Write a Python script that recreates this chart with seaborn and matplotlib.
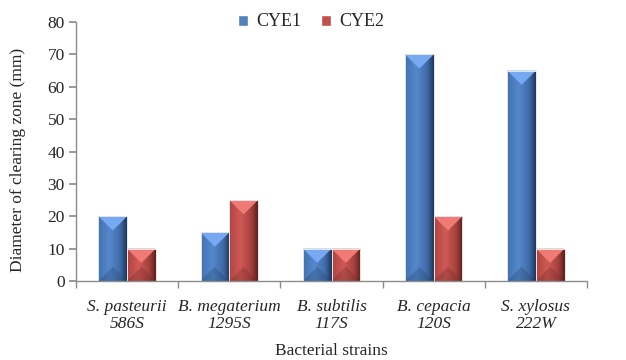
import numpy as np
import pandas as pd
import matplotlib
matplotlib.use("Agg")
import matplotlib.pyplot as plt
from matplotlib.colors import LinearSegmentedColormap, to_rgb
from matplotlib.patches import Polygon, Patch
import seaborn as sns

strains = ["S. pasteurii\n586S", "B. megaterium\n1295S", "B. subtilis\n117S",
           "B. cepacia\n120S", "S. xylosus\n222W"]
series = ["CYE1", "CYE2"]
cye1 = [20, 15, 10, 70, 65]
cye2 = [10, 25, 10, 20, 10]
yticks = [0, 10, 20, 30, 40, 50, 60, 70, 80]

df = pd.DataFrame({
    "strain": strains * 2,
    "series": [series[0]] * len(strains) + [series[1]] * len(strains),
    "value": cye1 + cye2,
})

sns.set_theme(style="white")
plt.rcParams["font.family"] = ["Liberation Serif", "DejaVu Serif"]

colors = {"CYE1": "#4F81BD", "CYE2": "#C0504D"}
grad_stops = {
    "CYE1": ["#4272b0", "#5688cc", "#3f6aa6", "#1d375c"],
    "CYE2": ["#b04441", "#cf5a56", "#a4403d", "#5e201e"],
}
top_col = {"CYE1": "#76a9f2", "CYE2": "#f07a76"}
bot_col = {"CYE1": "#23446e", "CYE2": "#6e2826"}

fig = plt.figure(figsize=(6.26, 3.6), dpi=100)
ax = fig.add_axes([76 / 626, 1 - 281 / 360, 511 / 626, 259 / 360])

sns.barplot(data=df, x="strain", y="value", hue="series", order=strains,
            hue_order=series, palette=colors, width=0.56, ax=ax,
            edgecolor="white", linewidth=0.6, legend=False, saturation=1)

ax.set_xlim(-0.5, len(strains) - 0.5)
ax.set_ylim(0, 80)
ax.set_yticks(yticks)
ax.set_yticklabels([str(t) for t in yticks], fontsize=12.5)

fig.canvas.draw()
p0 = ax.transData.transform((0, 0))
p1 = ax.transData.transform((1, 1))
sx = p1[0] - p0[0]
sy = p1[1] - p0[1]

bars = [p for p in ax.patches if p.get_height() > 0]
n = len(strains)
for i, bar in enumerate(bars):
    s = series[0] if i < n else series[1]
    x, w, h = bar.get_x(), bar.get_width(), bar.get_height()
    cmap = LinearSegmentedColormap.from_list(
        "g", list(zip([0.0, 0.4, 0.78, 1.0], [to_rgb(c) for c in grad_stops[s]])))
    grad = np.linspace(0, 1, 64).reshape(1, -1)
    z = bar.get_zorder()
    im = ax.imshow(grad, extent=(x, x + w, 0, h), aspect="auto", cmap=cmap,
                   zorder=z + 0.1, interpolation="bilinear")
    im.set_clip_path(bar)
    d = min((w / 2) * sx / sy, h / 2)
    ax.add_patch(Polygon([(x, h), (x + w, h), (x + w / 2, h - d)], closed=True,
                         facecolor=top_col[s], edgecolor="none", alpha=1.0,
                         zorder=z + 0.2))
    ax.add_patch(Polygon([(x, 0), (x + w, 0), (x + w / 2, d)], closed=True,
                         facecolor=bot_col[s], edgecolor="none", alpha=0.3,
                         zorder=z + 0.2))
    ax.add_patch(plt.Rectangle((x, 0), w, h, fill=False, edgecolor="#e6e6e6",
                               linewidth=0.7, zorder=z + 0.3))
    ax.set_xlim(-0.5, len(strains) - 0.5)
    ax.set_ylim(0, 80)

ax.set_xticks(np.arange(len(strains)))
ax.set_xticklabels(strains, fontsize=12.5, style="italic", linespacing=1.1)
ax.set_xticks(np.arange(len(strains) + 1) - 0.5, minor=True)
ax.tick_params(axis="x", which="major", length=0, pad=13)
ax.tick_params(axis="x", which="minor", length=5, color="#8c8c8c", direction="out",
               bottom=True)
ax.tick_params(axis="y", length=5, color="#8c8c8c", direction="out", left=True, pad=3)

for side in ["top", "right"]:
    ax.spines[side].set_visible(False)
for side in ["left", "bottom"]:
    ax.spines[side].set_color("#8c8c8c")
    ax.spines[side].set_linewidth(1.0)

ax.set_xlabel("Bacterial strains", fontsize=12.5, labelpad=8)
ax.set_ylabel("Diameter of clearing zone (mm)", fontsize=12.5)
ax.yaxis.set_label_coords(-0.097, 0.467)

handles = [Patch(facecolor=colors[s], edgecolor="white") for s in series]
ax.legend(handles, series, loc="center", bbox_to_anchor=(0.46, 1.0), ncol=2,
          frameon=False, fontsize=13, handlelength=0.55, handleheight=0.55,
          handletextpad=0.45, columnspacing=1.1)

fig.savefig("out.png", dpi=100)
